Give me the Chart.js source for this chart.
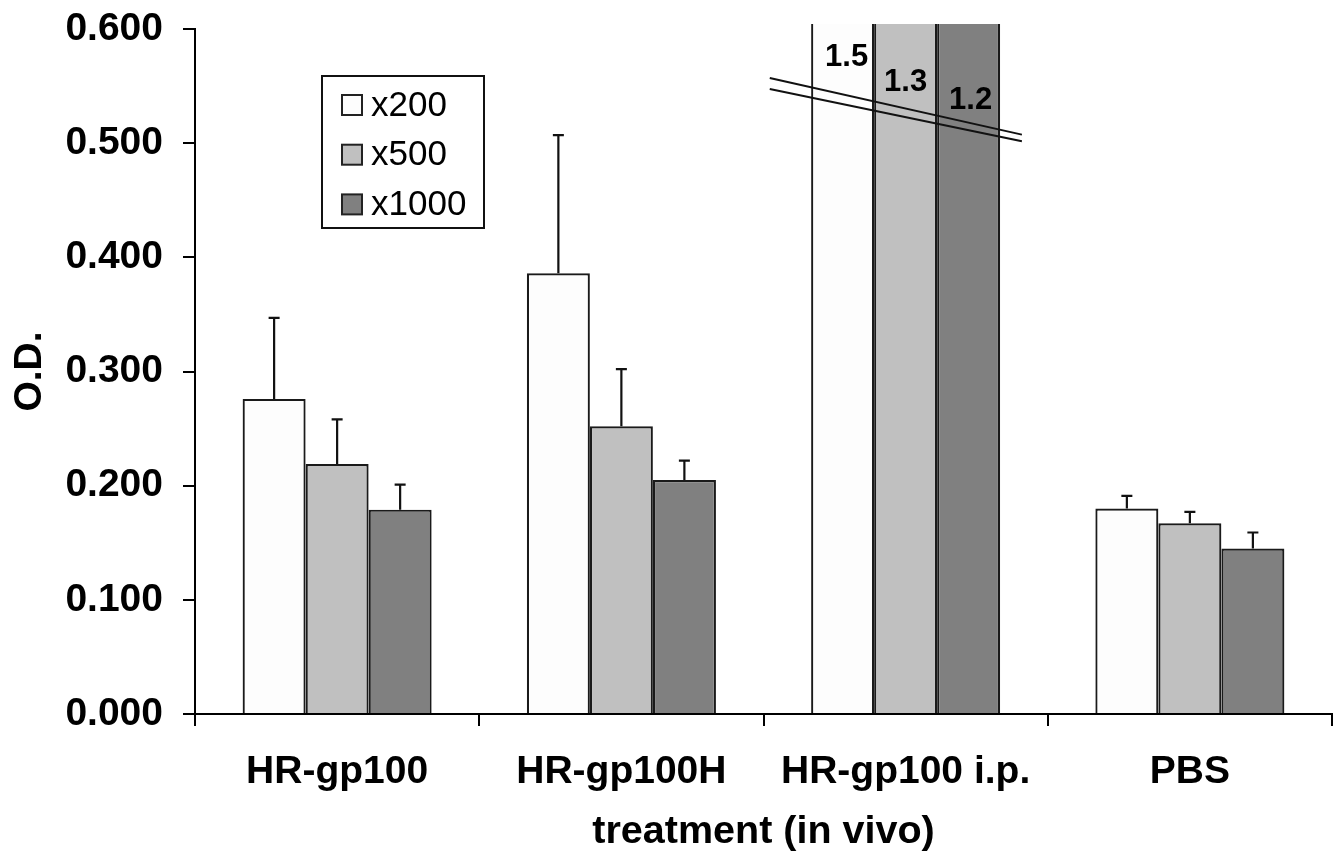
<!DOCTYPE html>
<html>
<head>
<meta charset="utf-8">
<script src="https://cdn.jsdelivr.net/npm/chart.js@4.4.1/dist/chart.umd.min.js"></script>
<style>
  html, body { margin: 0; padding: 0; background: #fff; }
  #wrap { width: 1344px; height: 858px; position: relative; }
</style>
</head>
<body>
<div id="wrap"><canvas id="c"></canvas></div>
<script>
// ---- data ----
const categories = ['HR-gp100', 'HR-gp100H', 'HR-gp100 i.p.', 'PBS'];
const seriesLabels = ['x200', 'x500', 'x1000'];
const x200 = [0.276, 0.386, 1.5, 0.180];
const x500 = [0.219, 0.252, 1.3, 0.167];
const x1000 = [0.179, 0.205, 1.2, 0.145];
const x200ErrTop = [0.347, 0.507, null, 0.191];
const x500ErrTop = [0.258, 0.302, null, 0.177];
const x1000ErrTop = [0.201, 0.222, null, 0.159];
const yMin = 0, yMax = 0.6, yStep = 0.1;
const yTitle = 'O.D.';
const xTitle = 'treatment (in vivo)';

// ---- styles ----
const FONT = '"Liberation Sans", Arial, Helvetica, sans-serif';
const colors = ['#fdfdfd', '#c0c0c0', '#808080'];
const edge = '#1a1a1a';

// axis-break annotation for the off-scale group (in scale units)
const breakCfg = {
  category: 2,
  lines: [
    { x0: 1.522, y0: 0.557, x1: 2.409, y1: 0.5075 },
    { x0: 1.522, y0: 0.5474, x1: 2.409, y1: 0.5016 }
  ],
  labelY: [0.575, 0.553, 0.537],
  labelDX: [4, 0, 2]
};

const errorBarPlugin = {
  id: 'errorBars',
  afterDatasetsDraw(chart) {
    const ctx = chart.ctx;
    const y = chart.scales.y;
    ctx.save();
    ctx.strokeStyle = '#111';
    ctx.lineWidth = 2.2;
    chart.data.datasets.forEach((ds, i) => {
      const meta = chart.getDatasetMeta(i);
      (ds.errTop || []).forEach((e, j) => {
        if (e === null || e === undefined) return;
        const bar = meta.data[j];
        const x = bar.x;
        const yTop = y.getPixelForValue(e);
        const yBar = bar.y;
        ctx.beginPath();
        ctx.moveTo(x, yBar);
        ctx.lineTo(x, yTop);
        ctx.moveTo(x - 5.5, yTop);
        ctx.lineTo(x + 5.5, yTop);
        ctx.stroke();
      });
    });
    ctx.restore();
  }
};

const breakPlugin = {
  id: 'axisBreak',
  afterDatasetsDraw(chart) {
    const ctx = chart.ctx;
    const xs = chart.scales.x, ys = chart.scales.y;
    ctx.save();
    ctx.strokeStyle = '#111';
    ctx.lineWidth = 2;
    breakCfg.lines.forEach(l => {
      ctx.beginPath();
      ctx.moveTo(xs.getPixelForValue(l.x0), ys.getPixelForValue(l.y0));
      ctx.lineTo(xs.getPixelForValue(l.x1), ys.getPixelForValue(l.y1));
      ctx.stroke();
    });
    ctx.fillStyle = '#000';
    ctx.font = 'bold 31px ' + FONT;
    ctx.textAlign = 'center';
    ctx.textBaseline = 'middle';
    chart.data.datasets.forEach((ds, i) => {
      const bar = chart.getDatasetMeta(i).data[breakCfg.category];
      const v = ds.data[breakCfg.category];
      ctx.fillText(String(v), bar.x + breakCfg.labelDX[i], ys.getPixelForValue(breakCfg.labelY[i]));
    });
    ctx.restore();
  }
};

const boxLegendPlugin = {
  id: 'boxLegend',
  afterDraw(chart) {
    const ctx = chart.ctx;
    const a = chart.chartArea;
    const left = a.left + 127, top = a.top + 47, w = 162, h = 152;
    ctx.save();
    ctx.fillStyle = '#fff';
    ctx.fillRect(left, top, w, h);
    ctx.strokeStyle = '#111';
    ctx.lineWidth = 2;
    ctx.strokeRect(left, top, w, h);
    ctx.font = '35px ' + FONT;
    ctx.textBaseline = 'middle';
    ctx.textAlign = 'left';
    chart.data.datasets.forEach((ds, i) => {
      const cy = top + 29 + i * 49.7;
      ctx.fillStyle = ds.backgroundColor;
      ctx.fillRect(left + 20, cy - 10, 20, 20);
      ctx.strokeStyle = '#222';
      ctx.lineWidth = 2;
      ctx.strokeRect(left + 20, cy - 10, 20, 20);
      ctx.fillStyle = '#000';
      ctx.fillText(ds.label, left + 49, cy + 1);
    });
    ctx.restore();
  }
};

const seriesValues = [x200, x500, x1000];
const seriesErr = [x200ErrTop, x500ErrTop, x1000ErrTop];

const datasets = seriesLabels.map((lab, i) => ({
  label: lab,
  data: seriesValues[i],
  errTop: seriesErr[i],
  backgroundColor: colors[i],
  borderColor: edge,
  borderWidth: 2.2,
  borderSkipped: 'bottom',
  barPercentage: 1.0,
  categoryPercentage: 0.665,
  clip: { left: false, right: false, top: 5, bottom: false }
}));

new Chart(document.getElementById('c'), {
  type: 'bar',
  data: { labels: categories, datasets },
  plugins: [errorBarPlugin, breakPlugin, boxLegendPlugin],
  options: {
    responsive: true,
    maintainAspectRatio: false,
    animation: false,
    events: [],
    layout: { padding: { top: 29, right: 12, left: 0, bottom: 0 } },
    plugins: { legend: { display: false }, tooltip: { enabled: false } },
    scales: {
      x: {
        offset: true,
        afterFit(s) { s.height = 144; s.paddingLeft = 0; s.paddingRight = 0; },
        grid: { display: true, offset: true, drawOnChartArea: false, drawTicks: true,
                tickLength: 12, color: '#000', lineWidth: 2 },
        border: { display: true, color: '#000', width: 2 },
        ticks: { color: '#000', padding: 23, font: { family: FONT, size: 39, weight: 'bold' }, maxRotation: 0 },
        title: { display: true, text: xTitle, color: '#000',
                 font: { family: FONT, size: 39.5, weight: 'bold' }, padding: { top: 0, bottom: 2 } }
      },
      y: {
        min: yMin, max: yMax,
        afterFit(s) { s.width = 195; s.paddingTop = 0; s.paddingBottom = 0; },
        grid: { display: true, drawOnChartArea: false, drawTicks: true,
                tickLength: 12, color: '#000', lineWidth: 2 },
        border: { display: true, color: '#000', width: 2 },
        ticks: { stepSize: yStep, color: '#000', padding: 20,
                 font: { family: FONT, size: 39, weight: 'bold' },
                 callback: v => Number(v).toFixed(3) },
        title: { display: true, text: yTitle, color: '#000',
                 font: { family: FONT, size: 39, weight: 'bold' }, padding: { top: 7, bottom: 0 } }
      }
    }
  }
});
</script>
</body>
</html>
